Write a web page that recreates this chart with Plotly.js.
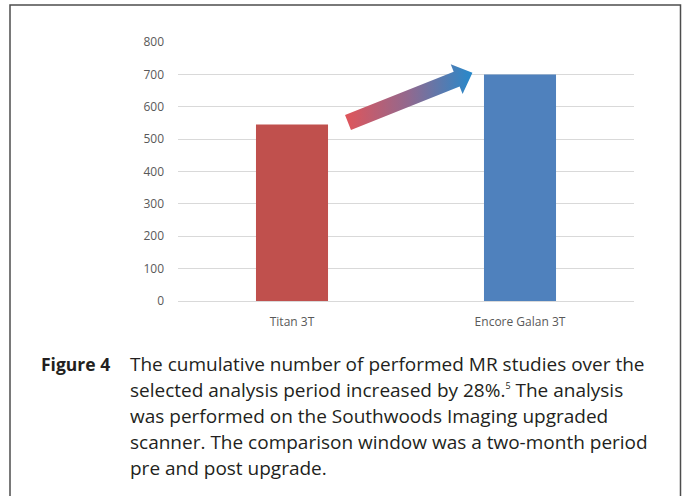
<!DOCTYPE html>
<html><head><meta charset="utf-8">
<script src="https://cdn.plot.ly/plotly-3.0.1.min.js"></script>
<style>html,body{margin:0;padding:0;background:#fff;}#chart{width:688px;height:496px;}</style>
</head><body><div id="chart"></div>
<script>
const categories = ['Titan 3T', 'Encore Galan 3T'];
const studies = [545, 700];
const barColors = ['#c0504d', '#4f81bd'];
const yTicks = [0, 100, 200, 300, 400, 500, 600, 700, 800];
const captionLabel = 'Figure 4';
const captionLines = [
  'The cumulative number of performed MR studies over the',
  'selected analysis period increased by 28%.<sup><span style="font-size:9px">5</span></sup> The analysis',
  'was performed on the Southwoods Imaging upgraded',
  'scanner. The comparison window was a two-month period',
  'pre and post upgrade.'
];

const W = 688, H = 496;
const L = 178, R = 634, T = 42, B = 301;
const px = x => (x - L) / (R - L);
const py = y => (B - y) / (B - T);

// decorative arrow (pixel geometry)
const tail = [348, 122.5], ang = Math.atan2(-49.8, 124.7);
const u = [Math.cos(ang), Math.sin(ang)], n = [-Math.sin(ang), Math.cos(ang)];
const len = 134, hl = 17, sw = 8, hw = 16;
const st = [[0,-sw],[len-hl,-sw],[len-hl,-hw],[len,0],[len-hl,hw],[len-hl,sw],[0,sw],[0,-sw]];
const ax = st.map(p => tail[0] + p[0]*u[0] + p[1]*n[0]);
const ay = st.map(p => tail[1] + p[0]*u[1] + p[1]*n[1]);

const fontTick = 'Open Sans, sans-serif';
const capFont = 'Open Sans, sans-serif';
const traces = [
  {type:'bar', x:categories, y:studies, marker:{color:barColors, line:{width:0}}, hoverinfo:'x+y'},
  {type:'scatter', x:ax, y:ay, xaxis:'x2', yaxis:'y2', mode:'lines', fill:'toself',
   line:{width:0, color:'rgba(0,0,0,0)'},
   fillgradient:{type:'horizontal', colorscale:[[0,'#e0555a'],[0.5,'#91698f'],[1,'#2689cb']]},
   hoverinfo:'skip', showlegend:false}
];

const annotations = [
  {xref:'paper', yref:'paper', x:px(112), y:py(364), xanchor:'right', yanchor:'middle', showarrow:false,
   text:'<b>'+captionLabel+'</b>', font:{family:capFont, size:17.5, color:'#231f20'}}
];
captionLines.forEach((t,i) => annotations.push({
  xref:'paper', yref:'paper', x:px(128), y:py(364 + i*26), xanchor:'left', yanchor:'middle', showarrow:false,
  align:'left', text:t, font:{family:capFont, size:19, color:'#231f20'}
}));

const layout = {
  width:W, height:H, margin:{l:L, r:W-R, t:T, b:H-B}, showlegend:false,
  paper_bgcolor:'#fff', plot_bgcolor:'#fff', bargap:0.684,
  xaxis:{type:'category', tickfont:{family:fontTick, size:12, color:'#595959'}, showgrid:false, zeroline:false,
         showline:false, ticks:'', ticklen:0, tickangle:0, ticklabelstandoff:12},
  yaxis:{range:[0,800], tickvals:yTicks, ticktext:yTicks.map(String), showgrid:true, gridcolor:'#d9d9d9', gridwidth:1,
         zeroline:true, zerolinecolor:'#d9d9d9', zerolinewidth:1, showline:false, ticks:'', ticklabelstandoff:13,
         tickfont:{family:fontTick, size:12, color:'#595959'}},
  xaxis2:{overlaying:'x', range:[L,R], visible:false, fixedrange:true},
  yaxis2:{overlaying:'y', range:[B,T], visible:false, fixedrange:true},
  shapes:[{type:'rect', xref:'paper', yref:'paper', x0:px(10), x1:px(680.5), y0:py(505), y1:py(5),
           line:{color:'#4d4d4d', width:1.5}, fillcolor:'rgba(0,0,0,0)', layer:'above'}],
  annotations:annotations
};
Plotly.newPlot('chart', traces, layout, {displayModeBar:false, staticPlot:true});
</script></body></html>
